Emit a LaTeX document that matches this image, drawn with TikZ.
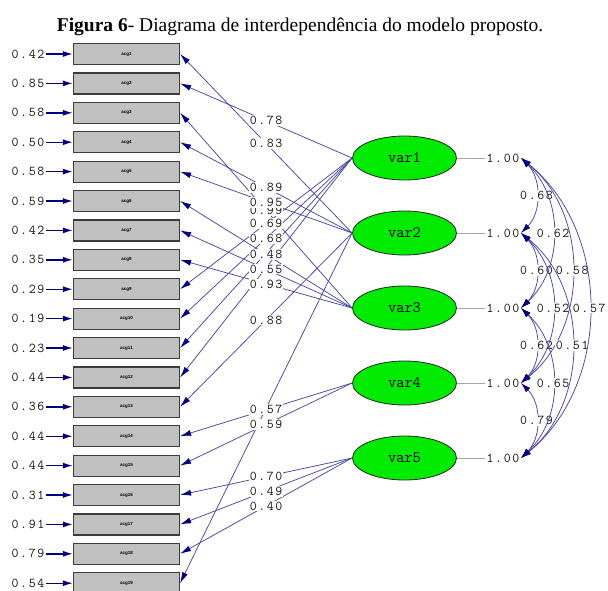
\documentclass[tikz,border=0pt]{standalone}
\usepackage{fontspec}
\setmainfont{Liberation Serif}
\newfontfamily\monof[LetterSpace=12]{Latin Modern Mono}
\newfontfamily\latf{Latin Modern Mono}
\newfontfamily\sansf{Liberation Sans}
\usetikzlibrary{arrows.meta,shapes.geometric}
\definecolor{navy}{RGB}{0,0,128}
\definecolor{pathblue}{RGB}{72,72,165}
\definecolor{boxgray}{RGB}{192,192,192}
\definecolor{boxedge}{RGB}{60,60,60}
\definecolor{latgreen}{RGB}{0,235,0}
\definecolor{numgray}{RGB}{20,20,20}
\begin{document}
\begin{tikzpicture}[x=1pt,y=-1pt,
 obs/.style={draw=boxedge, line width=1.2pt, fill=boxgray, minimum width=106pt, minimum height=21pt, inner sep=0pt, font=\sansf\bfseries\fontsize{4.5}{4.5}\selectfont},
 lat/.style={ellipse, draw=black!85, line width=0.8pt, fill=latgreen, minimum width=104pt, minimum height=44pt, inner sep=0pt, font=\latf\fontsize{16}{16}\selectfont},
 num/.style={font=\monof\fontsize{13.5}{13.5}\selectfont, text=numgray, inner sep=1.5pt},
 lab/.style={num, fill=white, inner sep=1pt},
 errarr/.style={draw=navy, line width=1.4pt, -{Latex[length=10pt,width=6pt]}},
 load/.style={draw=pathblue, line width=0.75pt, -{Latex[length=11pt,width=6pt,color=navy]}},
 cov/.style={draw=pathblue, line width=0.75pt, {Latex[length=10pt,width=6pt,color=navy]}-{Latex[length=10pt,width=6pt,color=navy]}},
 oneline/.style={draw=black!35, line width=0.6pt}
 ]
\useasboundingbox (0,0) rectangle (608,590);
\fill[white] (0,0) rectangle (608,590);

\node[font=\fontsize{19.5}{19.5}\selectfont, anchor=center] (title) at (300,27) {\textbf{Figura 6}- Diagrama de interdependência do modelo proposto.};

% observed variables with error terms
\foreach \i/\e in {1/0.42,2/0.85,3/0.58,4/0.50,5/0.58,6/0.59,7/0.42,8/0.35,9/0.29,10/0.19,11/0.23,12/0.44,13/0.36,14/0.44,15/0.44,16/0.31,17/0.91,18/0.79,19/0.54}{
  \node[obs] (b\i) at (126.5,{54+29.4*(\i-1)}) {acg\i};
  \node[num] (e\i) at (28,{54+29.4*(\i-1)}) {\e};
  \draw[errarr] (e\i) -- (b\i);
}

% latent variables
\foreach \j in {1,...,5}{
  \node[lat] (v\j) at (404.5,{158+75*(\j-1)}) {var\j};
  \node[num] (one\j) at (503,{158+75*(\j-1)}) {1.00};
  \draw[oneline] (v\j) -- (one\j);
}

% loadings
\draw[load] (v1.west) -- (b2.east);
\draw[load] (v1.west) -- (b9.east);
\draw[load] (v1.west) -- (b10.east);
\draw[load] (v1.west) -- (b11.east);
\draw[load] (v1.west) -- (b12.east);
\draw[load] (v2.west) -- (b1.east);
\draw[load] (v2.west) -- (b4.east);
\draw[load] (v2.west) -- (b5.east);
\draw[load] (v2.west) -- (b13.east);
\draw[load] (v2.west) -- (b19.east);
\draw[load] (v3.west) -- (b3.east);
\draw[load] (v3.west) -- (b6.east);
\draw[load] (v3.west) -- (b7.east);
\draw[load] (v3.west) -- (b8.east);
\draw[load] (v4.west) -- (b14.east);
\draw[load] (v4.west) -- (b15.east);
\draw[load] (v5.west) -- (b16.east);
\draw[load] (v5.west) -- (b17.east);
\draw[load] (v5.west) -- (b18.east);

% loading labels
\path (v1.west) -- node[lab]{0.78} (b2.east);
\path (v2.west) -- node[lab]{0.83} (b1.east);
\path (v2.west) -- node[lab]{0.89} (b4.east);
\path (v3.west) -- node[lab]{0.99} (b3.east);
\path (v2.west) -- node[lab]{0.95} (b5.east);
\path (v1.west) -- node[lab]{0.69} (b9.east);
\path (v1.west) -- node[lab]{0.68} (b10.east);
\path (v3.west) -- node[lab]{0.48} (b6.east);
\path (v3.west) -- node[lab]{0.55} (b7.east);
\path (v3.west) -- node[lab]{0.93} (b8.east);
\path (v2.west) -- node[lab]{0.88} (b13.east);
\path (v4.west) -- node[lab]{0.57} (b14.east);
\path (v4.west) -- node[lab]{0.59} (b15.east);
\path (v5.west) -- node[lab]{0.70} (b16.east);
\path (v5.west) -- node[lab]{0.49} (b17.east);
\path (v5.west) -- node[lab]{0.40} (b18.east);

% covariances
\draw[cov] (one1.east) to[out=-45,in=45] node[lab]{0.68} (one2.east);
\draw[cov] (one2.east) to[out=-45,in=45] node[lab]{0.60} (one3.east);
\draw[cov] (one3.east) to[out=-45,in=45] node[lab]{0.62} (one4.east);
\draw[cov] (one4.east) to[out=-45,in=45] node[lab]{0.79} (one5.east);
\draw[cov] (one1.east) to[out=-43,in=43] node[lab]{0.62} (one3.east);
\draw[cov] (one2.east) to[out=-43,in=43] node[lab]{0.52} (one4.east);
\draw[cov] (one3.east) to[out=-43,in=43] node[lab]{0.65} (one5.east);
\draw[cov] (one1.east) to[out=-39,in=39] node[lab]{0.58} (one4.east);
\draw[cov] (one2.east) to[out=-39,in=39] node[lab]{0.51} (one5.east);
\draw[cov] (one1.east) to[out=-39,in=39] node[lab]{0.57} (one5.east);
\end{tikzpicture}
\end{document}
